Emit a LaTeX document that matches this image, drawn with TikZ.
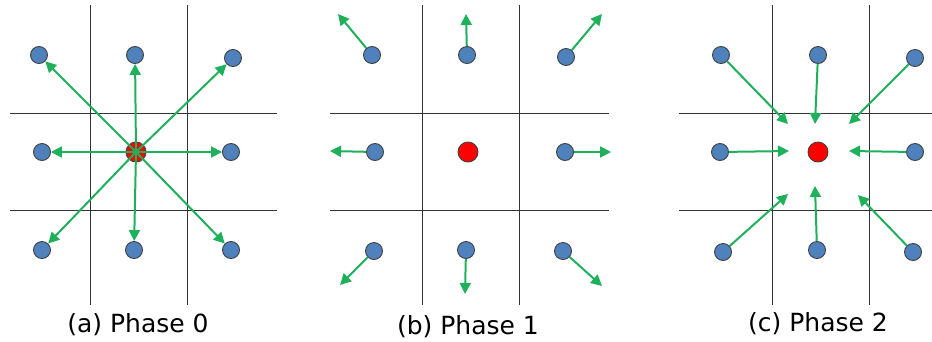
\documentclass[tikz,border=0pt]{standalone}
\usepackage{fontspec}
\setmainfont{DejaVu Sans}
\usetikzlibrary{arrows.meta}
\definecolor{siteblue}{RGB}{79,129,189}
\definecolor{movegreen}{RGB}{30,176,90}

\begin{document}
\begin{tikzpicture}[
  x=1pt, y=-1pt,
  cell/.style={draw=black!80, line width=1pt},
  site/.style={circle, draw=black!75, fill=siteblue, line width=0.9pt,
               minimum size=17pt, inner sep=0pt},
  hub/.style={site, fill=red, minimum size=20pt},
  move/.style={draw=movegreen, line width=2pt,
               -{Triangle[length=11pt, width=11pt]}},
  caption/.style={font=\fontsize{25}{30}\selectfont, anchor=base}
]
\useasboundingbox (0,0) rectangle (932,341);

\draw[cell] (90,5) -- (90,305);
\draw[cell] (187,5) -- (187,305);
\draw[cell] (10,113) -- (277,113);
\draw[cell] (10,210) -- (277,210);
\node[site] (a1) at (39,55) {};
\node[site] (a2) at (135,55) {};
\node[site] (a3) at (233,58) {};
\node[site] (a4) at (42,152) {};
\node[site] (a6) at (231,152) {};
\node[site] (a7) at (42,250) {};
\node[site] (a8) at (134,250) {};
\node[site] (a9) at (231,250) {};
\node[hub] (a5) at (136,152) {};
\draw[move] (a5.center) -- (a1);
\draw[move] (a5.center) -- (a2);
\draw[move] (a5.center) -- (a3);
\draw[move] (a5.center) -- (a4);
\draw[move] (a5.center) -- (a6);
\draw[move] (a5.center) -- (a7);
\draw[move] (a5.center) -- (a8);
\draw[move] (a5.center) -- (a9);
\node[caption] (capa) at (138,332) {(a) Phase 0};

\draw[cell] (422,5) -- (422,305);
\draw[cell] (519,5) -- (519,305);
\draw[cell] (330,113) -- (609,113);
\draw[cell] (330,210) -- (609,210);
\node[site] (b1) at (372,55) {};
\node[site] (b2) at (467,55) {};
\node[site] (b3) at (566,57) {};
\node[site] (b4) at (375,152) {};
\node[hub] (b5) at (468,152) {};
\node[site] (b6) at (565,152) {};
\node[site] (b7) at (374,251) {};
\node[site] (b8) at (466,250) {};
\node[site] (b9) at (563,251) {};
\coordinate (t1) at (338,14);
\coordinate (t2) at (466,14);
\coordinate (t3) at (602,14);
\coordinate (t4) at (330,151);
\coordinate (t6) at (611,152);
\coordinate (t7) at (340,285);
\coordinate (t8) at (465,294);
\coordinate (t9) at (602,286);
\draw[move] (b1) -- (t1);
\draw[move] (b2) -- (t2);
\draw[move] (b3) -- (t3);
\draw[move] (b4) -- (t4);
\draw[move] (b6) -- (t6);
\draw[move] (b7) -- (t7);
\draw[move] (b8) -- (t8);
\draw[move] (b9) -- (t9);
\node[caption] (capb) at (468,334) {(b) Phase 1};

\draw[cell] (772,5) -- (772,305);
\draw[cell] (869,5) -- (869,305);
\draw[cell] (679,113) -- (932,113);
\draw[cell] (679,210) -- (932,210);
\node[site] (c1) at (721,55) {};
\node[site] (c2) at (818,55) {};
\node[site] (c3) at (915,58) {};
\node[site] (c4) at (720,152) {};
\node[hub] (c5) at (818,152) {};
\node[site] (c6) at (915,152) {};
\node[site] (c7) at (723,252) {};
\node[site] (c8) at (817,250) {};
\node[site] (c9) at (913,252) {};
\coordinate (e1) at (788,124);
\coordinate (e2) at (815,124);
\coordinate (e3) at (849,124);
\coordinate (e4) at (789,151);
\coordinate (e6) at (849,151);
\coordinate (e7) at (788,194);
\coordinate (e8) at (815,186);
\coordinate (e9) at (858,195);
\draw[move] (c1) -- (e1);
\draw[move] (c2) -- (e2);
\draw[move] (c3) -- (e3);
\draw[move] (c4) -- (e4);
\draw[move] (c6) -- (e6);
\draw[move] (c7) -- (e7);
\draw[move] (c8) -- (e8);
\draw[move] (c9) -- (e9);
\node[caption] (capc) at (818,331) {(c) Phase 2};
\end{tikzpicture}
\end{document}
